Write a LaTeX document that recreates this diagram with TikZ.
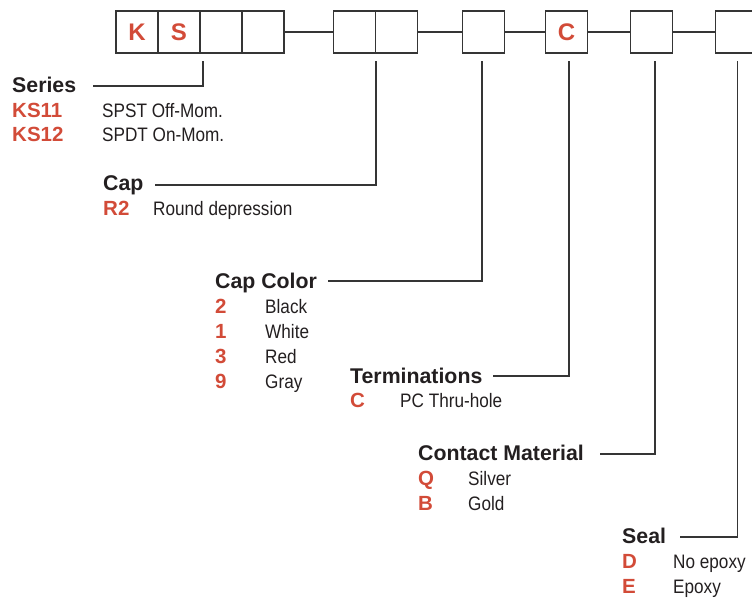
\documentclass[tikz,border=0pt]{standalone}
\usepackage{fontspec}
\setmainfont{Liberation Sans}
\newfontfamily\descfont{Liberation Sans}[FakeStretch=0.88]
\definecolor{codered}{HTML}{D24B38}
\definecolor{ink}{HTML}{231F20}
\definecolor{linegray}{HTML}{353535}
\begin{document}
\begin{tikzpicture}[x=1pt,y=-1pt,
  cell/.style={draw=linegray,line width=1.2pt,minimum width=42pt,minimum height=42pt,inner sep=0pt,outer sep=0pt,font=\bfseries\fontsize{24}{24}\selectfont,text=codered},
  leader/.style={draw=linegray,line width=1.1pt},
  head/.style={anchor=base west,inner sep=0pt,font=\bfseries\fontsize{21.3}{21.3}\selectfont,text=ink},
  code/.style={anchor=base west,inner sep=0pt,font=\bfseries\fontsize{20.5}{20.5}\selectfont,text=codered},
  desc/.style={anchor=base west,inner sep=0pt,font=\descfont\fontsize{19.5}{19.5}\selectfont,text=ink}]
\useasboundingbox (0,0) rectangle (752,597);
\clip (0,0) rectangle (752,597);
% boxes
\node[cell] (b1) at (137,32) {K};
\node[cell] (b2) at (179,32) {S};
\node[cell] (b3) at (221,32) {};
\node[cell] (b4) at (263,32) {};
\node[cell] (b5) at (354.5,32) {};
\node[cell] (b6) at (396.5,32) {};
\node[cell] (b7) at (483.5,32) {};
\node[cell] (b8) at (566.5,32) {C};
\node[cell] (b9) at (651.5,32) {};
\node[cell] (b10) at (736.5,32) {};
\draw[leader] (b4.east) -- (b5.west);
\draw[leader] (b6.east) -- (b7.west);
\draw[leader] (b7.east) -- (b8.west);
\draw[leader] (b8.east) -- (b9.west);
\draw[leader] (b9.east) -- (b10.west);
% Series
\node[head] (series) at (12,92) {Series};
\node[code] (ks11) at (12,117.5) {KS11};
\node[desc] (ks11d) at (102,117.5) {SPST Off-Mom.};
\node[code] (ks12) at (12,141.7) {KS12};
\node[desc] (ks12d) at (102,141.7) {SPDT On-Mom.};
% Cap
\node[head] (cap) at (103,190.7) {Cap};
\node[code] (r2) at (103,215.7) {R2};
\node[desc] (r2d) at (153,215.7) {Round depression};
% Cap Color
\node[head] (capcolor) at (215,288.3) {Cap Color};
\node[code] (c2) at (215,313.3) {2};
\node[desc] (c2d) at (265,313.3) {Black};
\node[code] (c1) at (215,338.5) {1};
\node[desc] (c1d) at (265,338.5) {White};
\node[code] (c3) at (215,363.7) {3};
\node[desc] (c3d) at (265,363.7) {Red};
\node[code] (c9) at (215,388.7) {9};
\node[desc] (c9d) at (265,388.7) {Gray};
% Terminations
\node[head] (term) at (350,383.3) {Terminations};
\node[code] (tc) at (350,407.3) {C};
\node[desc] (tcd) at (400,407.3) {PC Thru-hole};
% Contact Material
\node[head] (contact) at (418,460.7) {Contact Material};
\node[code] (cq) at (418,485.7) {Q};
\node[desc] (cqd) at (468,485.7) {Silver};
\node[code] (cb) at (418,510.5) {B};
\node[desc] (cbd) at (468,510.5) {Gold};
% Seal
\node[head] (seal) at (622,543.3) {Seal};
\node[code] (sd) at (622,568.3) {D};
\node[desc] (sdd) at (673,568.3) {No epoxy};
\node[code] (se) at (622,593.3) {E};
\node[desc] (sed) at (673,593.3) {Epoxy};
% leader ends
\coordinate (t1) at ([shift={(3,8)}]b2.south east);
\coordinate (t2) at ([shift={(0.5,8)}]b5.south east);
\coordinate (t3) at ([shift={(-1.5,8)}]b7.south);
\coordinate (t4) at ([shift={(2.5,8)}]b8.south);
\coordinate (t5) at ([shift={(3.5,8)}]b9.south);
\coordinate (t6) at ([shift={(1,8)}]b10.south);
\coordinate (e1) at (93,86);
\coordinate (e2) at (155,185);
\coordinate (e3) at (328,281);
\coordinate (e4) at (493,376);
\coordinate (e5) at (600,454);
\coordinate (e6) at (680,537);
\draw[leader] (t1) |- (e1);
\draw[leader] (t2) |- (e2);
\draw[leader] (t3) |- (e3);
\draw[leader] (t4) |- (e4);
\draw[leader] (t5) |- (e5);
\draw[leader] (t6) |- (e6);
\end{tikzpicture}
\end{document}
